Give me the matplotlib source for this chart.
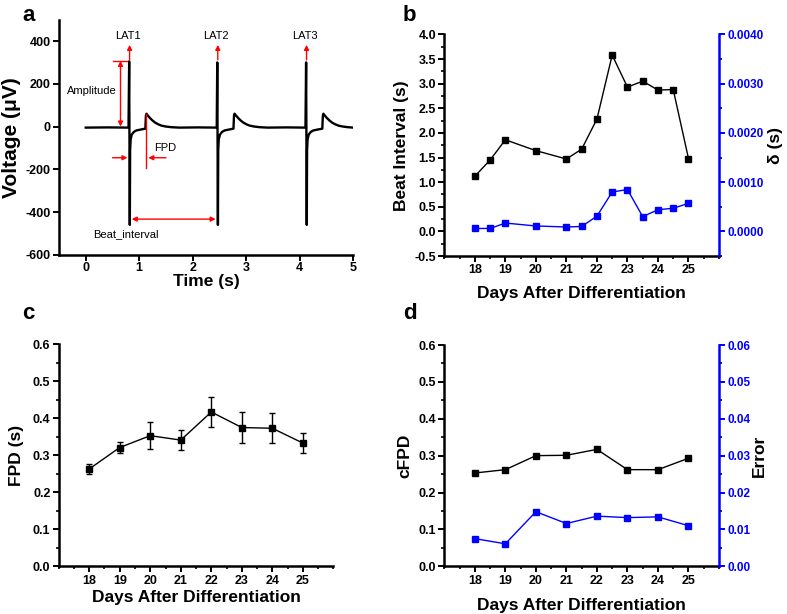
import matplotlib
matplotlib.use("Agg")
import matplotlib.pyplot as plt
from matplotlib.ticker import MultipleLocator, FormatStrFormatter

plt.rcParams["font.family"] = ["Liberation Sans", "DejaVu Sans"]
plt.rcParams["font.weight"] = "bold"
plt.rcParams["axes.unicode_minus"] = False

# --- panel a: field potential trace ---
trace_t = [0.00, 0.40, 0.80, 0.812, 0.824, 0.830, 0.840, 0.86, 0.90, 0.95, 1.05, 1.115,
           1.125, 1.135, 1.16, 1.20, 1.25, 1.30, 1.36, 1.42, 1.50, 1.60, 1.75, 2.10, 2.45,
           2.460, 2.472, 2.478, 2.488, 2.51, 2.55, 2.60, 2.70, 2.763,
           2.773, 2.783, 2.81, 2.85, 2.90, 2.95, 3.01, 3.07, 3.15, 3.25, 3.40, 3.75, 4.11,
           4.122, 4.134, 4.140, 4.150, 4.17, 4.21, 4.26, 4.36, 4.425,
           4.435, 4.445, 4.47, 4.51, 4.56, 4.61, 4.67, 4.73, 4.81, 4.90, 5.00]
trace_v = [-5, -4, -5, 305, -460, -110, -60, -38, -25, -18, -13, -10,
           50, 60, 52, 40, 28, 18, 10, 4, 0, -3, -5, -4, -5,
           300, -460, -110, -60, -38, -25, -18, -13, -10,
           50, 60, 52, 40, 28, 18, 10, 4, 0, -3, -5, -4, -5,
           300, -460, -110, -60, -38, -25, -18, -13, -10,
           50, 60, 52, 40, 28, 18, 10, 4, 0, -3, -5]
lat_t = [0.82, 2.47, 4.13]
lat_labels = ["LAT1", "LAT2", "LAT3"]

# --- panel b ---
days_b = [18, 18.5, 19, 20, 21, 21.5, 22, 22.5, 23, 23.5, 24, 24.5, 25]
beat_interval = [1.12, 1.45, 1.86, 1.64, 1.47, 1.67, 2.28, 3.58, 2.93, 3.05, 2.87, 2.88, 1.48]
delta = [0.00006, 0.00006, 0.00017, 0.00011, 0.00009, 0.00010, 0.00031,
         0.00080, 0.00085, 0.00030, 0.00044, 0.00047, 0.00057]

# --- panel c ---
days = [18, 19, 20, 21, 22, 23, 24, 25]
fpd = [0.263, 0.321, 0.353, 0.341, 0.417, 0.375, 0.373, 0.333]
fpd_err = [0.014, 0.016, 0.037, 0.027, 0.040, 0.041, 0.041, 0.026]

# --- panel d ---
cfpd = [0.253, 0.262, 0.300, 0.301, 0.317, 0.262, 0.262, 0.293]
cfpd_err = [0.0075, 0.0061, 0.0148, 0.0116, 0.0136, 0.0132, 0.0134, 0.0110]

LABEL_FS = 12.5
TICK_FS = 9


def style(ax, color="black", side="left", labelsize=TICK_FS):
    for s in ["top", "right", "left", "bottom"]:
        ax.spines[s].set_visible(False)
    ax.spines["bottom"].set_visible(side == "left")
    ax.spines[side].set_visible(True)
    ax.spines[side].set_color(color)
    ax.spines[side].set_linewidth(1.8)
    ax.spines["bottom"].set_linewidth(1.8)
    ax.tick_params(which="major", direction="out", length=4, width=1.4,
                   labelsize=labelsize, pad=2)
    ax.tick_params(which="minor", direction="out", length=2.5, width=1.2)
    ax.tick_params(axis="y", colors=color)


def days_axis(ax, labelpad):
    ax.set_xlim(17, 26)
    ax.set_xticks(days)
    ax.xaxis.set_minor_locator(MultipleLocator(0.5))
    ax.set_xlabel("Days After Differentiation", fontsize=LABEL_FS,
                  fontweight="bold", labelpad=labelpad)


fig = plt.figure(figsize=(7.87, 6.14), dpi=100)

# panel a
ax_a = fig.add_axes([0.075, 0.585, 0.3736, 0.383])
ax_a.plot(trace_t, trace_v, color="black", lw=1.7)
ax_a.set_xlim(-0.5, 5)
ax_a.set_ylim(-600, 500)
ax_a.set_xticks([0, 1, 2, 3, 4, 5])
ax_a.set_yticks([-600, -400, -200, 0, 200, 400])
style(ax_a)
ax_a.tick_params(axis="x", pad=1)
ax_a.set_xlabel("Time (s)", fontsize=LABEL_FS, fontweight="bold", labelpad=0)
ax_a.set_ylabel("Voltage (\u03bcV)", fontsize=15, fontweight="bold", labelpad=3)

red = dict(color="red", lw=1, shrinkA=0, shrinkB=0, mutation_scale=7)
for t, lab in zip(lat_t, lat_labels):
    ax_a.annotate("", xy=(t, 382), xytext=(t, 312), arrowprops=dict(arrowstyle="-|>", **red))
    ax_a.text(t - 0.03, 425, lab, ha="center", va="center", fontsize=8, fontweight="normal")
ax_a.annotate("", xy=(0.65, 307), xytext=(0.65, 0), arrowprops=dict(arrowstyle="<|-|>", **red))
ax_a.plot([0.51, 0.77], [307, 307], color="red", lw=1)
ax_a.text(0.58, 168, "Amplitude", ha="right", va="center", fontsize=8, fontweight="normal")
ax_a.annotate("", xy=(0.78, -146), xytext=(0.50, -146), arrowprops=dict(arrowstyle="-|>", **red))
ax_a.annotate("", xy=(1.17, -146), xytext=(1.50, -146), arrowprops=dict(arrowstyle="-|>", **red))
ax_a.plot([1.135, 1.135], [60, -195], color="red", lw=1)
ax_a.text(1.27, -100, "FPD", ha="left", va="center", fontsize=8, fontweight="normal")
ax_a.annotate("", xy=(2.43, -433), xytext=(0.86, -433), arrowprops=dict(arrowstyle="<|-|>", **red))
ax_a.text(0.75, -505, "Beat_interval", ha="center", va="center", fontsize=8, fontweight="normal")

# panel b
ax_b = fig.add_axes([0.5646, 0.583, 0.349, 0.361])
ax_b.plot(days_b, beat_interval, "s-", color="black", ms=5, lw=1)
ax_b.set_ylim(-0.5, 4.0)
ax_b.yaxis.set_major_locator(MultipleLocator(0.5))
ax_b.yaxis.set_minor_locator(MultipleLocator(0.25))
ax_b.yaxis.set_major_formatter(FormatStrFormatter("%.1f"))
style(ax_b)
days_axis(ax_b, 7)
ax_b.set_ylabel("Beat Interval (s)", fontsize=LABEL_FS, fontweight="bold", labelpad=4)
ax_b2 = ax_b.twinx()
ax_b2.plot(days_b, delta, "s-", color="blue", ms=5, lw=1)
ax_b2.set_ylim(-0.0005, 0.004)
ax_b2.set_yticks([0, 0.001, 0.002, 0.003, 0.004])
ax_b2.yaxis.set_minor_locator(MultipleLocator(0.0005))
ax_b2.yaxis.set_major_formatter(FormatStrFormatter("%.4f"))
style(ax_b2, "blue", "right", 8.5)
ax_b2.set_ylabel("\u03b4 (s)", fontsize=LABEL_FS, fontweight="bold", labelpad=3)

# panel c
ax_c = fig.add_axes([0.0746, 0.0777, 0.349, 0.3616])
ax_c.errorbar(days, fpd, yerr=fpd_err, fmt="s-", color="black", ms=5, lw=1,
              elinewidth=1, capsize=2.5, capthick=1)
ax_c.set_ylim(0, 0.6)
ax_c.yaxis.set_major_locator(MultipleLocator(0.1))
ax_c.yaxis.set_minor_locator(MultipleLocator(0.05))
ax_c.yaxis.set_major_formatter(FormatStrFormatter("%.1f"))
style(ax_c)
days_axis(ax_c, 2.5)
ax_c.set_ylabel("FPD (s)", fontsize=LABEL_FS, fontweight="bold", labelpad=6)

# panel d
ax_d = fig.add_axes([0.5646, 0.0777, 0.349, 0.3604])
ax_d.plot(days, cfpd, "s-", color="black", ms=5, lw=1)
ax_d.set_ylim(0, 0.6)
ax_d.yaxis.set_major_locator(MultipleLocator(0.1))
ax_d.yaxis.set_minor_locator(MultipleLocator(0.05))
ax_d.yaxis.set_major_formatter(FormatStrFormatter("%.1f"))
style(ax_d)
days_axis(ax_d, 8)
ax_d.set_ylabel("cFPD", fontsize=LABEL_FS, fontweight="bold", labelpad=4)
ax_d2 = ax_d.twinx()
ax_d2.plot(days, cfpd_err, "s-", color="blue", ms=5, lw=1)
ax_d2.set_ylim(0, 0.06)
ax_d2.yaxis.set_major_locator(MultipleLocator(0.01))
ax_d2.yaxis.set_minor_locator(MultipleLocator(0.005))
ax_d2.yaxis.set_major_formatter(FormatStrFormatter("%.2f"))
style(ax_d2, "blue", "right", 8.5)
ax_d2.set_ylabel("Error", fontsize=LABEL_FS, fontweight="bold", labelpad=1)

for letter, x, y in [("a", 0.028, 0.975), ("b", 0.512, 0.975), ("c", 0.028, 0.49), ("d", 0.512, 0.49)]:
    fig.text(x, y, letter, fontsize=16, fontweight="bold", ha="left", va="center")

fig.savefig("out.png", dpi=100)
